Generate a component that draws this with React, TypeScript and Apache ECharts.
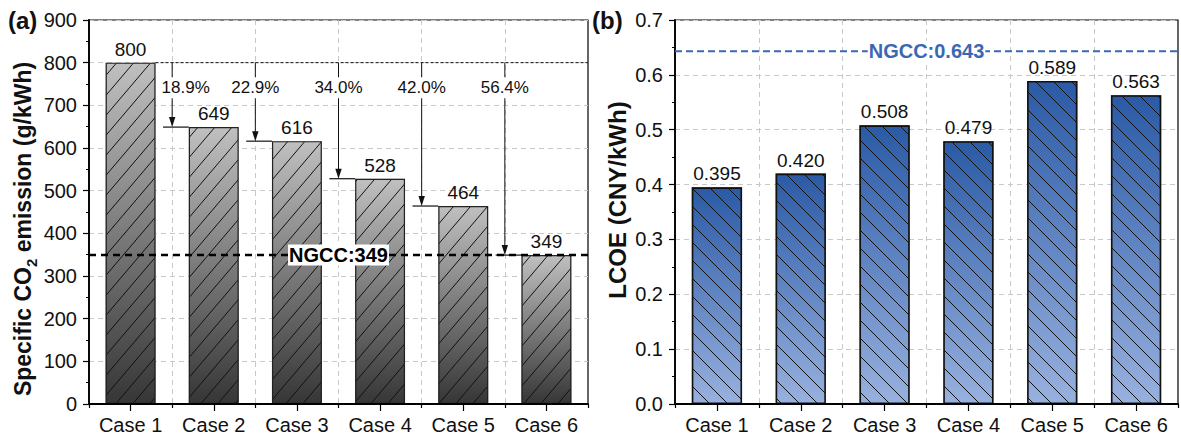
import React, { useEffect, useRef } from 'react';
import * as echarts from 'echarts';

const categories = ['Case 1', 'Case 2', 'Case 3', 'Case 4', 'Case 5', 'Case 6'];
const emission = [800, 649, 616, 528, 464, 349];
const reductionLabels = ['18.9%', '22.9%', '34.0%', '42.0%', '56.4%'];
const ngccEmission = 349;
const lcoe = [0.395, 0.42, 0.508, 0.479, 0.589, 0.563];
const ngccLcoe = 0.643;

const FONT = "'Liberation Sans', Arial, Helvetica, sans-serif";

let measureCtx: CanvasRenderingContext2D | null = null;
function textWidth(t: string, font: string) {
  if (!measureCtx) measureCtx = document.createElement('canvas').getContext('2d');
  measureCtx!.font = font;
  return measureCtx!.measureText(t).width;
}

function makeHatch(w: number, h: number, forward: boolean, color: string, lw: number) {
  const c = document.createElement('canvas');
  c.width = w;
  c.height = h;
  const ctx = c.getContext('2d')!;
  ctx.strokeStyle = color;
  ctx.lineWidth = lw;
  for (const k of [-1, 0, 1]) {
    ctx.beginPath();
    if (forward) {
      ctx.moveTo(k * w, h);
      ctx.lineTo(k * w + w, 0);
    } else {
      ctx.moveTo(k * w, 0);
      ctx.lineTo(k * w + w, h);
    }
    ctx.stroke();
  }
  return c;
}

export default function App() {
  const ref = useRef<HTMLDivElement>(null);
  useEffect(() => {
    const chart = echarts.init(ref.current!, null, { renderer: 'svg' });

    const hatchA = makeHatch(17, 20, true, '#111', 1);
    const hatchB = makeHatch(18, 18, false, '#111', 1);

    const grayGrad = new echarts.graphic.LinearGradient(0, 0, 0, 1, [
      { offset: 0, color: '#c0c0c0' },
      { offset: 1, color: '#363636' },
    ]);
    const blueGrad = new echarts.graphic.LinearGradient(0, 0, 0, 1, [
      { offset: 0, color: '#2a5aa6' },
      { offset: 1, color: '#98b1df' },
    ]);

    const catAxis = (gridIndex: number) => ({
      gridIndex,
      type: 'category',
      data: categories,
      position: 'bottom',
      boundaryGap: true,
      axisLine: { show: true, lineStyle: { color: '#000', width: 1.8 } },
      axisTick: { show: true, alignWithLabel: true, length: 7, lineStyle: { color: '#000', width: 1.2 } },
      axisLabel: { fontSize: 20, color: '#111', margin: 11, fontFamily: FONT },
      splitLine: { show: false },
      z: 5,
    });
    const boundAxis = (gridIndex: number) => ({
      gridIndex,
      type: 'value',
      min: 0,
      max: 12,
      interval: 2,
      position: 'bottom',
      axisLine: { show: false },
      axisTick: { show: true, length: 4, lineStyle: { color: '#000', width: 1.2 } },
      axisLabel: { show: false },
      splitLine: { show: true, showMinLine: false, showMaxLine: false, lineStyle: { color: '#c8c8c8', width: 1, type: [5, 4] } },
    });

    const yCommon = {
      axisLine: { show: true, lineStyle: { color: '#000', width: 1.8 } },
      axisTick: { show: true, inside: false, length: 6, lineStyle: { color: '#000', width: 1.2 } },
      minorTick: { show: true, splitNumber: 2, length: 3, lineStyle: { color: '#000', width: 1 } },
      splitLine: { show: true, lineStyle: { color: '#c8c8c8', width: 1, type: [5, 4] } },
      nameLocation: 'middle',
    };

    const annotText = (text: string, x: number, y: number, size: number, color: string, bold: boolean) => ({
      type: 'text',
      x,
      y,
      z2: 20,
      style: {
        text,
        fontSize: size,
        fontFamily: FONT,
        fontWeight: bold ? 'bold' : 'normal',
        fill: color,
        align: 'center',
        verticalAlign: 'middle',
        backgroundColor: '#fff',
        padding: [1, 1, 0, 1],
      },
    });

    const refLine = (color: string, width: number, dash: number[], labelColor: string, fmt: (v: number) => string) =>
      (params: any, api: any) => {
        const v = api.value(1);
        const p0 = api.coord([0, v]);
        const p1 = api.coord([12, v]);
        return {
          type: 'group',
          children: [
            {
              type: 'line',
              shape: { x1: p0[0], y1: p0[1], x2: p1[0], y2: p1[1] },
              style: { stroke: color, lineWidth: width, lineDash: dash },
            },
            annotText(fmt(v), (p0[0] + p1[0]) / 2, p0[1], 20, labelColor, true),
          ],
        };
      };

    const arrowData = reductionLabels.map((_, k) => [2 * (k + 1), emission[0], emission[k + 1], emission[k], k]);
    const pctFont = `17px ${FONT}`;

    const option: any = {
      animation: false,
      backgroundColor: '#fff',
      textStyle: { fontFamily: FONT },
      grid: [
        { left: 89, top: 20, width: 499, height: 384, show: true, borderColor: '#000', borderWidth: 1.2, backgroundColor: 'transparent' },
        { left: 675, top: 20, width: 503, height: 384, show: true, borderColor: '#000', borderWidth: 1.2, backgroundColor: 'transparent' },
      ],
      xAxis: [catAxis(0), boundAxis(0), catAxis(1), boundAxis(1)],
      yAxis: [
        {
          ...yCommon,
          gridIndex: 0,
          type: 'value',
          min: 0,
          max: 900,
          interval: 100,
          axisLabel: { fontSize: 20, color: '#111', margin: 12, fontFamily: FONT },
          name: '{b|Specific CO}{s|2}{b| emission (g/kWh)}',
          nameGap: 53,
          nameTextStyle: {
            padding: [0, 34, 0, 0],
            rich: {
              b: { fontSize: 23, fontWeight: 'bold', fontFamily: FONT, color: '#111', lineHeight: 26 },
              s: { fontSize: 15, fontWeight: 'bold', fontFamily: FONT, color: '#111', verticalAlign: 'bottom', lineHeight: 26, padding: [0, 0, -3, 0] },
            },
          },
        },
        {
          ...yCommon,
          gridIndex: 1,
          type: 'value',
          min: 0,
          max: 0.7,
          interval: 0.1,
          axisLabel: { fontSize: 20, color: '#111', margin: 12, fontFamily: FONT, formatter: (v: number) => v.toFixed(1) },
          name: 'LCOE (CNY/kWh)',
          nameGap: 46,
          nameTextStyle: { fontSize: 24, fontWeight: 'bold', fontFamily: FONT, color: '#111', padding: [0, 0, 0, 24] },
        },
      ],
      graphic: [
        { type: 'text', left: 8, top: 8, style: { text: '(a)', fontSize: 24, fontWeight: 'bold', fontFamily: FONT, fill: '#111' } },
        { type: 'text', left: 592, top: 8, style: { text: '(b)', fontSize: 24, fontWeight: 'bold', fontFamily: FONT, fill: '#111' } },
      ],
      series: [
        {
          type: 'bar',
          xAxisIndex: 0,
          yAxisIndex: 0,
          data: emission,
          barWidth: '60%',
          barGap: '-100%',
          itemStyle: { color: grayGrad },
          z: 2,
        },
        {
          type: 'bar',
          xAxisIndex: 0,
          yAxisIndex: 0,
          data: emission,
          barWidth: '60%',
          barGap: '-100%',
          itemStyle: { color: { image: hatchA, repeat: 'repeat', imageWidth: 17, imageHeight: 20 }, borderColor: '#222', borderWidth: 1.2 },
          label: { show: true, position: 'top', distance: 4, fontSize: 19, color: '#111', fontFamily: FONT },
          z: 3,
        },
        {
          type: 'custom',
          xAxisIndex: 1,
          yAxisIndex: 0,
          data: [[0, emission[0]]],
          z: 4,
          renderItem: (params: any, api: any) => {
            const v = api.value(1);
            const p0 = api.coord([1.6, v]);
            const p1 = api.coord([12, v]);
            return {
              type: 'line',
              shape: { x1: p0[0], y1: p0[1], x2: p1[0], y2: p1[1] },
              style: { stroke: '#111', lineWidth: 1, lineDash: [3, 2] },
            };
          },
        },
        {
          type: 'custom',
          xAxisIndex: 1,
          yAxisIndex: 0,
          data: arrowData,
          z: 5,
          renderItem: (params: any, api: any) => {
            const xb = api.value(0);
            const top = api.value(1);
            const v = api.value(2);
            const prev = api.value(3);
            const k = api.value(4);
            const pTop = api.coord([xb, top]);
            const pV = api.coord([xb, v]);
            const pStart = api.coord([xb - 0.22, v]);
            const pBarLeft = api.coord([xb + 0.4, v]);
            const pPrevRight = api.coord([xb - 0.4, prev]);
            const text = reductionLabels[k];
            const half = textWidth(text, pctFont) / 2;
            const ly = pTop[1] + 25;
            let cx = pTop[0];
            if (pPrevRight[1] < ly + 10 && cx - half < pPrevRight[0] + 6) cx = pPrevRight[0] + 6 + half;
            return {
              type: 'group',
              children: [
                {
                  type: 'line',
                  shape: { x1: pTop[0], y1: pTop[1], x2: pV[0], y2: pV[1] - 8 },
                  style: { stroke: '#111', lineWidth: 1 },
                },
                {
                  type: 'polygon',
                  shape: { points: [[pV[0] - 3.2, pV[1] - 10], [pV[0] + 3.2, pV[1] - 10], [pV[0], pV[1]]] },
                  style: { fill: '#111' },
                },
                {
                  type: 'line',
                  shape: { x1: pStart[0], y1: pV[1], x2: pBarLeft[0], y2: pV[1] },
                  style: { stroke: '#111', lineWidth: 1.2 },
                },
                {
                  type: 'text',
                  x: cx,
                  y: ly,
                  z2: 20,
                  style: {
                    text,
                    fontSize: 17,
                    fontFamily: FONT,
                    fill: '#111',
                    align: 'center',
                    verticalAlign: 'middle',
                    backgroundColor: '#fff',
                    padding: [2, 1, 2, 1],
                  },
                },
              ],
            };
          },
        },
        {
          type: 'custom',
          xAxisIndex: 1,
          yAxisIndex: 0,
          data: [[0, ngccEmission]],
          z: 6,
          renderItem: refLine('#000', 2.5, [7, 5], '#000', (v) => 'NGCC:' + v),
        },
        {
          type: 'bar',
          xAxisIndex: 2,
          yAxisIndex: 1,
          data: lcoe,
          barWidth: '60%',
          barGap: '-100%',
          itemStyle: { color: blueGrad },
          z: 2,
        },
        {
          type: 'bar',
          xAxisIndex: 2,
          yAxisIndex: 1,
          data: lcoe,
          barWidth: '60%',
          barGap: '-100%',
          itemStyle: { color: { image: hatchB, repeat: 'repeat', imageWidth: 18, imageHeight: 18 }, borderColor: '#111', borderWidth: 1.6 },
          label: {
            show: true,
            position: 'top',
            distance: 4,
            fontSize: 19,
            color: '#111',
            fontFamily: FONT,
            formatter: (p: any) => Number(p.value).toFixed(3),
          },
          z: 3,
        },
        {
          type: 'custom',
          xAxisIndex: 3,
          yAxisIndex: 1,
          data: [[0, ngccLcoe]],
          z: 6,
          renderItem: refLine('#3b68b3', 2, [7, 4], '#3b68b3', (v) => 'NGCC:' + v.toFixed(3)),
        },
      ],
    };

    chart.setOption(option);
    return () => chart.dispose();
  }, []);
  return (
    <div
      ref={ref}
      style={{ position: 'fixed', left: 0, top: 0, width: 1181, height: 441, background: '#fff' }}
    />
  );
}
